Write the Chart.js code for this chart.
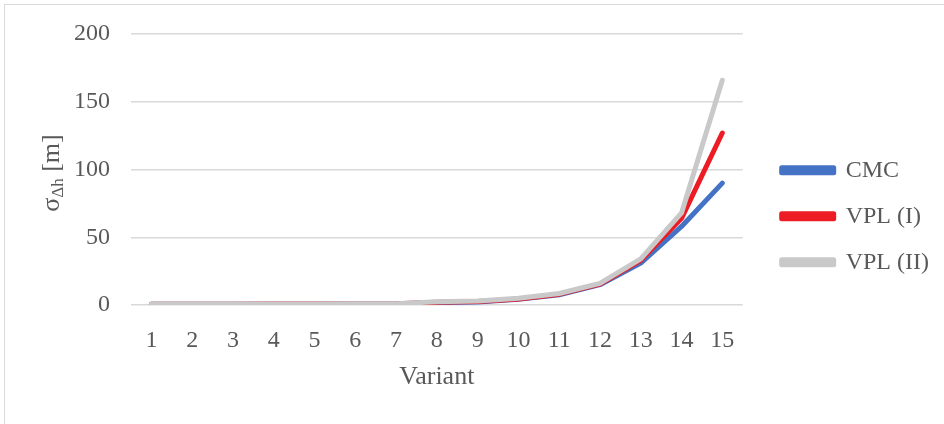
<!DOCTYPE html>
<html>
<head>
<meta charset="utf-8">
<script src="https://cdn.jsdelivr.net/npm/chart.js@4"></script>
<style>
  html, body { margin: 0; padding: 0; background: #fff; }
  #wrap { width: 944px; height: 424px; }
</style>
</head>
<body>
<div id="wrap"><canvas id="chart" width="944" height="424"></canvas></div>
<script>
// values
const variants = ['1', '2', '3', '4', '5', '6', '7', '8', '9', '10', '11', '12', '13', '14', '15'];
const cmc    = [0.5, 0.5, 0.5, 0.6, 0.6, 0.7, 0.8, 1.8, 2.3, 4.2, 7.6, 15, 31, 58, 90];
const vplI   = [0.6, 0.6, 0.6, 0.7, 0.7, 0.8, 0.9, 2.0, 2.5, 4.5, 8.0, 15.5, 33, 64, 127];
const vplII  = [0.7, 0.7, 0.7, 0.8, 0.8, 0.9, 1.0, 2.4, 3.0, 5.0, 8.5, 16, 34, 68, 166];
const yTicks = [0, 50, 100, 150, 200];

const serif = '"Liberation Serif", "Times New Roman", serif';
const textGrey = '#595959';

// frame + white background
const framePlugin = {
  id: 'frame',
  beforeDraw(chart) {
    const ctx = chart.ctx;
    ctx.save();
    ctx.fillStyle = '#fff';
    ctx.fillRect(0, 0, chart.width, chart.height);
    ctx.strokeStyle = '#d9d9d9';
    ctx.lineWidth = 1;
    ctx.strokeRect(4.5, 4.5, chart.width + 20, chart.height + 20);
    ctx.restore();
  }
};

// y axis title with subscript (σ_Δh [m])
const yTitlePlugin = {
  id: 'yTitle',
  afterDraw(chart) {
    const ctx = chart.ctx;
    const parts = [
      { t: 'σ', size: 26, dy: 0 },
      { t: 'Δh', size: 17, dy: 7 },
      { t: ' [m]', size: 26, dy: 0 }
    ];
    ctx.save();
    let total = 0;
    parts.forEach(p => { ctx.font = p.size + 'px ' + serif; p.w = ctx.measureText(p.t).width; total += p.w; });
    ctx.translate(52, 173);
    ctx.rotate(-Math.PI / 2);
    ctx.fillStyle = textGrey;
    ctx.textBaseline = 'middle';
    let x = -total / 2;
    parts.forEach(p => {
      ctx.font = p.size + 'px ' + serif;
      ctx.fillText(p.t, x, p.dy);
      x += p.w;
    });
    ctx.restore();
  }
};

// nudge the legend away from the plot, like the original
const legendShift = {
  id: 'legendShift',
  afterLayout(chart) {
    const lg = chart.legend;
    lg.left += 17; lg.right += 17;
    lg.top += 6; lg.bottom += 6;
  }
};

const ctx = document.getElementById('chart').getContext('2d');
new Chart(ctx, {
  type: 'line',
  data: {
    labels: variants,
    datasets: [
      { label: 'CMC', data: cmc, borderColor: '#4472c4', backgroundColor: '#4472c4', order: 2 },
      { label: 'VPL (I)', data: vplI, borderColor: '#ed1c24', backgroundColor: '#ed1c24', order: 1 },
      { label: 'VPL (II)', data: vplII, borderColor: '#c9c9c9', backgroundColor: '#c9c9c9', order: 0 }
    ]
  },
  options: {
    responsive: false,
    animation: false,
    layout: { padding: { top: 27.6, right: 22, bottom: 31, left: 0 } },
    elements: {
      line: { borderWidth: 5, borderCapStyle: 'round', borderJoinStyle: 'round', tension: 0, fill: false },
      point: { radius: 0, hoverRadius: 0 }
    },
    plugins: {
      tooltip: { enabled: false },
      legend: {
        position: 'right',
        labels: {
          boxWidth: 52,
          boxHeight: 5,
          padding: 22,
          color: textGrey,
          font: { family: serif, size: 24 },
          sort: (a, b) => a.datasetIndex - b.datasetIndex
        }
      }
    },
    scales: {
      x: {
        offset: true,
        grid: { display: false, drawTicks: false },
        border: { display: false },
        ticks: { color: textGrey, font: { family: serif, size: 24 }, padding: 21, maxRotation: 0 },
        title: { display: true, text: 'Variant', color: textGrey, font: { family: serif, size: 26 }, padding: { top: 8, bottom: 0 } },
        afterFit(scale) { scale.height = 424 - 305 - 31; }
      },
      y: {
        min: 0,
        max: 200,
        afterBuildTicks(scale) { scale.ticks = yTicks.map(v => ({ value: v })); },
        grid: { color: '#d9d9d9', lineWidth: 1.5, drawTicks: false },
        border: { display: false },
        ticks: { color: textGrey, font: { family: serif, size: 24, lineHeight: 1.1 }, padding: 21 },
        afterFit(scale) { scale.width = 131; }
      }
    }
  },
  plugins: [framePlugin, yTitlePlugin, legendShift]
});
</script>
</body>
</html>
